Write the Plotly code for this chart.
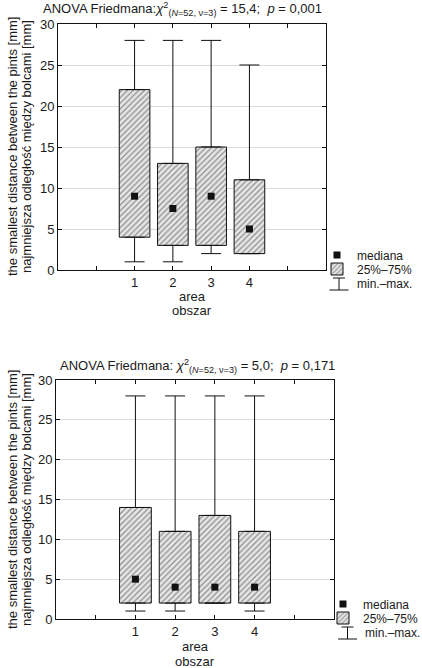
import plotly.graph_objects as go

# ---------------- data ----------------
areas = [1, 2, 3, 4]
x_tick_vals = [0, 1, 2, 3, 4, 5]
x_tick_text = ["", "1", "2", "3", "4", ""]
y_tick_vals = [0, 5, 10, 15, 20, 25, 30]

# upper chart
top_min = [1, 1, 2, 2]
top_q1 = [4, 3, 3, 2]
top_med = [9, 7.5, 9, 5]
top_q3 = [22, 13, 15, 11]
top_max = [28, 28, 28, 25]

# lower chart
bot_min = [1, 1, 2, 1]
bot_q1 = [2, 2, 2, 2]
bot_med = [5, 4, 4, 4]
bot_q3 = [14, 11, 13, 11]
bot_max = [28, 28, 28, 28]

top_title = "ANOVA Friedmana:<i>χ</i><sup>2</sup><sub>(<i>N</i>=52, ν=3)</sub> = 15,4;  <i>p</i> = 0,001"
bot_title = "ANOVA Friedmana: <i>χ</i><sup>2</sup><sub>(<i>N</i>=52, ν=3)</sub> = 5,0;  <i>p</i> = 0,171"
y_title_1 = "the smallest distance between the pints [mm]"
y_title_2 = "najmniejsza odległość między bolcami [mm]"
x_title_1 = "area"
x_title_2 = "obszar"
leg_median = "mediana"
leg_box = "25%–75%"
leg_range = "min.–max."

# ---------------- geometry helpers ----------------
W, H = 422, 668
ML, MR, MT, MB = 56, 88, 24, 49
PW, PH = W - ML - MR, H - MT - MB


def px(x):
    return (x - ML) / PW


def py(y):
    return (H - MB - y) / PH


FONT = "Liberation Sans, Arial, sans-serif"
TXT = "#1a1a1a"

fig = go.Figure()


def add_panel(xa, ya, mins, q1, med, q3, maxs, leg_a, leg_b):
    fig.add_trace(go.Bar(
        x=areas, y=[b - a for a, b in zip(q1, q3)], base=q1, width=0.8,
        xaxis=xa, yaxis=ya, name=leg_box, legend=leg_b,
        marker=dict(color="#e6e6e6",
                    pattern=dict(shape="/", fgcolor="#333333", bgcolor="#e6e6e6",
                                 size=4, solidity=0.3),
                    line=dict(color="#111111", width=1)),
        hoverinfo="skip"))
    fig.add_trace(go.Scatter(
        x=areas, y=q3, mode="markers", marker=dict(opacity=0, size=1),
        xaxis=xa, yaxis=ya, showlegend=False, hoverinfo="skip",
        error_y=dict(type="data", symmetric=False,
                     array=[b - a for a, b in zip(q3, maxs)],
                     arrayminus=[0] * len(areas),
                     color="#111111", thickness=1, width=10)))
    fig.add_trace(go.Scatter(
        x=areas, y=q1, mode="markers", marker=dict(opacity=0, size=1),
        xaxis=xa, yaxis=ya, showlegend=False, hoverinfo="skip",
        error_y=dict(type="data", symmetric=False,
                     array=[0] * len(areas),
                     arrayminus=[a - b for a, b in zip(q1, mins)],
                     color="#111111", thickness=1, width=10)))
    fig.add_trace(go.Scatter(
        x=areas, y=med, mode="markers", xaxis=xa, yaxis=ya,
        name=leg_median, legend=leg_a,
        marker=dict(symbol="square", size=7, color="#111111"),
        hoverinfo="skip"))


add_panel("x", "y", top_min, top_q1, top_med, top_q3, top_max, "legend", "legend2")
add_panel("x2", "y2", bot_min, bot_q1, bot_med, bot_q3, bot_max, "legend3", "legend4")

axis_common = dict(showline=True, linecolor="#111111", linewidth=1, mirror="ticks",
                   ticks="inside", ticklen=4, tickcolor="#111111",
                   tickfont=dict(family=FONT, size=13, color=TXT), zeroline=False)

fig.update_layout(
    width=W, height=H, margin=dict(l=ML, r=MR, t=MT, b=MB, autoexpand=False),
    paper_bgcolor="white", plot_bgcolor="white",
    font=dict(family=FONT, size=13, color=TXT),
    barmode="overlay",
    xaxis=dict(domain=[px(58), px(326)], range=[-1, 6], tickvals=x_tick_vals,
               ticktext=x_tick_text, showgrid=False, anchor="y", automargin=False,
               **axis_common),
    yaxis=dict(domain=[py(270), py(24)], range=[0, 30], tickvals=y_tick_vals,
               showgrid=True, gridcolor="#dadada", anchor="x", automargin=False,
               **axis_common),
    xaxis2=dict(domain=[px(56), px(334)], range=[-1, 6], tickvals=x_tick_vals,
                ticktext=x_tick_text, showgrid=False, anchor="y2", automargin=False,
                **axis_common),
    yaxis2=dict(domain=[py(619), py(380)], range=[0, 30], tickvals=y_tick_vals,
                showgrid=True, gridcolor="#dadada", anchor="x2", automargin=False,
                **axis_common),
)

LEG_FS = 12
leg_style = dict(bgcolor="rgba(0,0,0,0)", borderwidth=0, xanchor="left", yanchor="middle",
                 font=dict(family=FONT, size=LEG_FS, color=TXT), itemwidth=30)
fig.update_layout(
    legend=dict(x=px(317), y=py(255), **leg_style),
    legend2=dict(x=px(317), y=py(269), **leg_style),
    legend3=dict(x=px(323), y=py(604), **leg_style),
    legend4=dict(x=px(323), y=py(618), **leg_style),
)

ann = []


def text(x, y, s, xanchor="center", angle=0, size=13):
    ann.append(dict(x=px(x), y=py(y), xref="paper", yref="paper", text=s, showarrow=False,
                    xanchor=xanchor, yanchor="middle", textangle=angle,
                    font=dict(family=FONT, size=size, color=TXT)))


text(41, 9, top_title, "left")
text(58, 366, bot_title, "left")
text(12, 147, y_title_1, angle=-90)
text(26, 147, y_title_2, angle=-90)
text(12, 500, y_title_1, angle=-90)
text(26, 500, y_title_2, angle=-90)
text(192, 296, x_title_1)
text(192, 311, x_title_2)
text(195, 646, x_title_1)
text(195, 661, x_title_2)
text(355, 284, leg_range, "left", size=LEG_FS)
text(363, 633, leg_range, "left", size=LEG_FS)
fig.update_layout(annotations=ann)

# min-max legend symbols
shapes = []


def seg(x0, y0, x1, y1):
    shapes.append(dict(type="line", xref="paper", yref="paper",
                       x0=px(x0), y0=py(y0), x1=px(x1), y1=py(y1),
                       line=dict(color="#111111", width=1)))


for (cx, ty, by) in [(339, 278, 290), (347.5, 627, 639)]:
    seg(cx - 6, ty, cx + 6, ty)
    seg(cx, ty, cx, by)
    seg(cx - 9.5, by, cx + 9.5, by)
fig.update_layout(shapes=shapes)

fig.write_html("out.html")
